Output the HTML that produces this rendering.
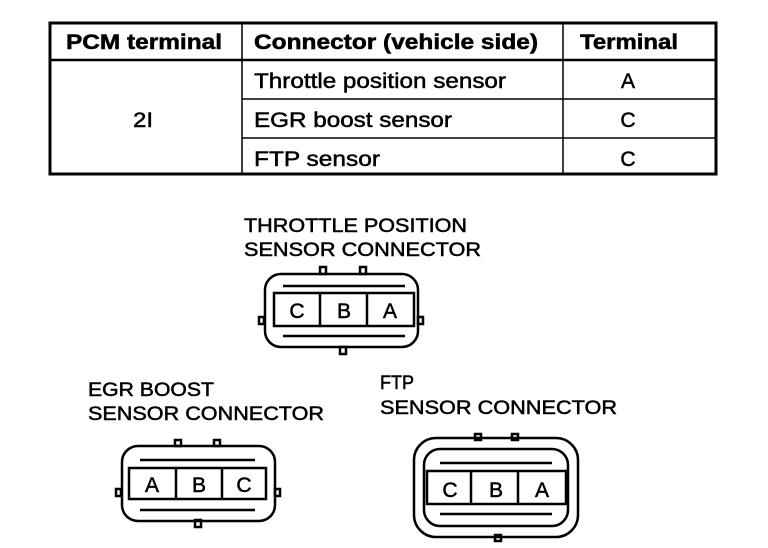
<!DOCTYPE html>
<html><head><meta charset="utf-8"><style>
body{margin:0;background:#fff;}
svg{display:block;}
text{font-family:"Liberation Sans",Arial,sans-serif;fill:#000;stroke:#000;stroke-width:0.5;}
</style></head><body>
<svg width="768" height="548" viewBox="0 0 768 548" xmlns="http://www.w3.org/2000/svg">
<g stroke="#000" fill="none">
<rect x="50" y="23" width="666" height="151" stroke-width="3"/>
<line x1="50" y1="60" x2="716" y2="60" stroke-width="2.5"/>
<line x1="242" y1="23" x2="242" y2="174" stroke-width="1.5"/>
<line x1="563" y1="23" x2="563" y2="174" stroke-width="1.5"/>
<line x1="242" y1="99" x2="716" y2="99" stroke-width="1.5"/>
<line x1="242" y1="138" x2="716" y2="138" stroke-width="1.5"/>
</g>
<g font-size="21">
<text x="66" y="49" font-weight="bold" textLength="156" lengthAdjust="spacingAndGlyphs">PCM terminal</text>
<text x="254" y="49" font-weight="bold" textLength="284" lengthAdjust="spacingAndGlyphs">Connector (vehicle side)</text>
<text x="580" y="49" font-weight="bold" textLength="98" lengthAdjust="spacingAndGlyphs">Terminal</text>
<text x="133" y="127" textLength="20" lengthAdjust="spacingAndGlyphs">2I</text>
<text x="254" y="88" textLength="252" lengthAdjust="spacingAndGlyphs">Throttle position sensor</text>
<text x="254" y="127" textLength="198" lengthAdjust="spacingAndGlyphs">EGR boost sensor</text>
<text x="254" y="166" textLength="126" lengthAdjust="spacingAndGlyphs">FTP sensor</text>
<text x="628" y="88" text-anchor="middle">A</text>
<text x="628" y="127" text-anchor="middle">C</text>
<text x="628" y="166" text-anchor="middle">C</text>
</g>
<g font-size="19">
<text x="244" y="232" textLength="223" lengthAdjust="spacingAndGlyphs">THROTTLE POSITION</text>
<text x="244" y="256" textLength="237" lengthAdjust="spacingAndGlyphs">SENSOR CONNECTOR</text>
<text x="88" y="396" textLength="126" lengthAdjust="spacingAndGlyphs">EGR BOOST</text>
<text x="88" y="420" textLength="236" lengthAdjust="spacingAndGlyphs">SENSOR CONNECTOR</text>
<text x="380" y="389" textLength="34" lengthAdjust="spacingAndGlyphs">FTP</text>
<text x="380" y="414" textLength="237" lengthAdjust="spacingAndGlyphs">SENSOR CONNECTOR</text>
</g>
<!-- Throttle connector -->
<g stroke="#000" fill="none" stroke-width="2.5">
<rect x="320" y="267" width="6" height="7"/><rect x="360" y="267" width="6" height="7"/>
<rect x="340" y="347" width="6" height="7"/>
<rect x="259" y="317" width="5" height="7"/><rect x="418" y="317" width="5" height="7"/>
<rect x="265" y="274" width="153" height="73" rx="16"/>
<rect x="274" y="293" width="140" height="33"/>
<line x1="320" y1="293" x2="320" y2="326"/><line x1="367" y1="293" x2="367" y2="326"/>
<path d="M283 286 H405" /><path d="M283 336 H405"/>
</g>
<g font-size="21" text-anchor="middle">
<text x="297" y="318">C</text><text x="344" y="318">B</text><text x="390" y="318">A</text>
</g>
<!-- EGR connector -->
<g stroke="#000" fill="none" stroke-width="2.5">
<rect x="175" y="440" width="6" height="6"/><rect x="214" y="440" width="6" height="6"/>
<rect x="195" y="520" width="6" height="7"/>
<rect x="116" y="489" width="5" height="7"/><rect x="275" y="489" width="5" height="7"/>
<rect x="122" y="446" width="153" height="75" rx="16"/>
<rect x="129" y="468" width="137" height="31"/>
<line x1="176" y1="468" x2="176" y2="499"/><line x1="222" y1="468" x2="222" y2="499"/>
<path d="M140 460 H255"/><path d="M140 510 H255"/>
</g>
<g font-size="21" text-anchor="middle">
<text x="152" y="492">A</text><text x="199" y="492">B</text><text x="244" y="492">C</text>
</g>
<!-- FTP connector -->
<g stroke="#000" fill="none" stroke-width="2.5">
<rect x="475" y="434" width="6" height="6"/><rect x="512" y="434" width="6" height="6"/>
<rect x="495" y="535" width="6" height="6"/>
<rect x="414" y="438" width="164" height="99" rx="22"/>
<rect x="424" y="449" width="144" height="77" rx="16"/>
<rect x="427" y="471" width="139" height="33"/>
<line x1="471" y1="471" x2="471" y2="504"/><line x1="518" y1="471" x2="518" y2="504"/>
<path d="M440 463 H552"/><path d="M440 514 H552"/>
</g>
<g font-size="21" text-anchor="middle">
<text x="450" y="497">C</text><text x="496" y="497">B</text><text x="542" y="497">A</text>
</g>
</svg>
</body></html>
